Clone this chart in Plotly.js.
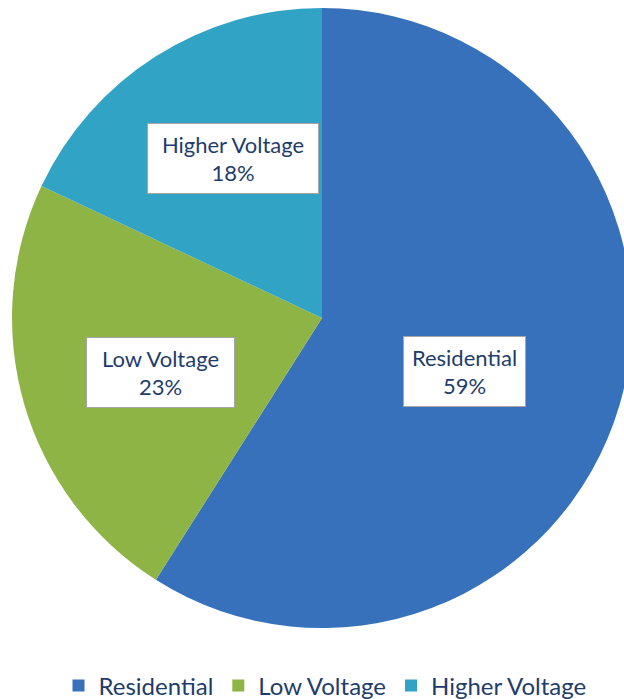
<!DOCTYPE html>
<html>
<head>
<meta charset="utf-8">
<script src="https://cdn.plot.ly/plotly-3.0.1.min.js"></script>
<style>
  html, body { margin: 0; padding: 0; overflow: hidden; background: #ffffff; }
  #chart { width: 644px; height: 699px; }
</style>
</head>
<body>
<div id="chart"></div>
<script>
// ---- data ----
const categories = ['Residential', 'Low Voltage', 'Higher Voltage'];
const shares = [59, 23, 18];
const sliceColors = ['#3871bb', '#8db444', '#31a3c4'];

// ---- styling / geometry ----
const W = 644, H = 699;
const cx = 322, cy = 318, R = 310;
const textColor = '#1f3d6b';
const labelRadius = [0.49, 0.55, 0.59];
const labelAngleShift = [4.6, -2.3, 3.2];
const labelBoxWidth = [123, 149, 172];
const labelBoxHeight = 71;
const labelPad = 6;

const total = shares.reduce((a, b) => a + b, 0);
let acc = 0;
const annotations = shares.map((v, i) => {
  const mid = (acc + v / 2) / total * 360 + labelAngleShift[i];
  acc += v;
  const a = mid * Math.PI / 180;
  const px = cx + R * labelRadius[i] * Math.sin(a);
  const py = cy - R * labelRadius[i] * Math.cos(a);
  return {
    xref: 'paper', yref: 'paper',
    x: px / W, y: (H - py) / H,
    xanchor: 'center', yanchor: 'middle',
    showarrow: false,
    text: categories[i] + '<br>' + Math.round(v / total * 100) + '%',
    font: { family: 'Lato, "Open Sans", sans-serif', size: 22, color: textColor },
    width: labelBoxWidth[i] - 2 * labelPad - 2,
    height: labelBoxHeight - 2 * labelPad - 2,
    bgcolor: '#ffffff',
    bordercolor: '#a6a6a6',
    borderwidth: 1,
    borderpad: labelPad
  };
});

const trace = {
  type: 'pie',
  labels: categories,
  values: shares,
  sort: false,
  direction: 'clockwise',
  rotation: 0,
  textinfo: 'none',
  hoverinfo: 'label+percent',
  marker: { colors: sliceColors, line: { width: 0 } },
  domain: {
    x: [(cx - R) / W, (cx + R) / W],
    y: [(H - cy - R) / H, (H - cy + R) / H]
  }
};

const layout = {
  width: W, height: H,
  margin: { l: 0, r: 0, t: 0, b: 0, autoexpand: false },
  paper_bgcolor: '#ffffff',
  showlegend: true,
  legend: {
    orientation: 'h',
    x: 325 / W, xanchor: 'center',
    y: (H - 686) / H, yanchor: 'middle',
    font: { family: 'Lato, "Open Sans", sans-serif', size: 24, color: textColor },
    itemwidth: 30,
    traceorder: 'normal'
  },
  annotations: annotations
};

Plotly.newPlot('chart', [trace], layout, { displayModeBar: false, staticPlot: true });
</script>
</body>
</html>
